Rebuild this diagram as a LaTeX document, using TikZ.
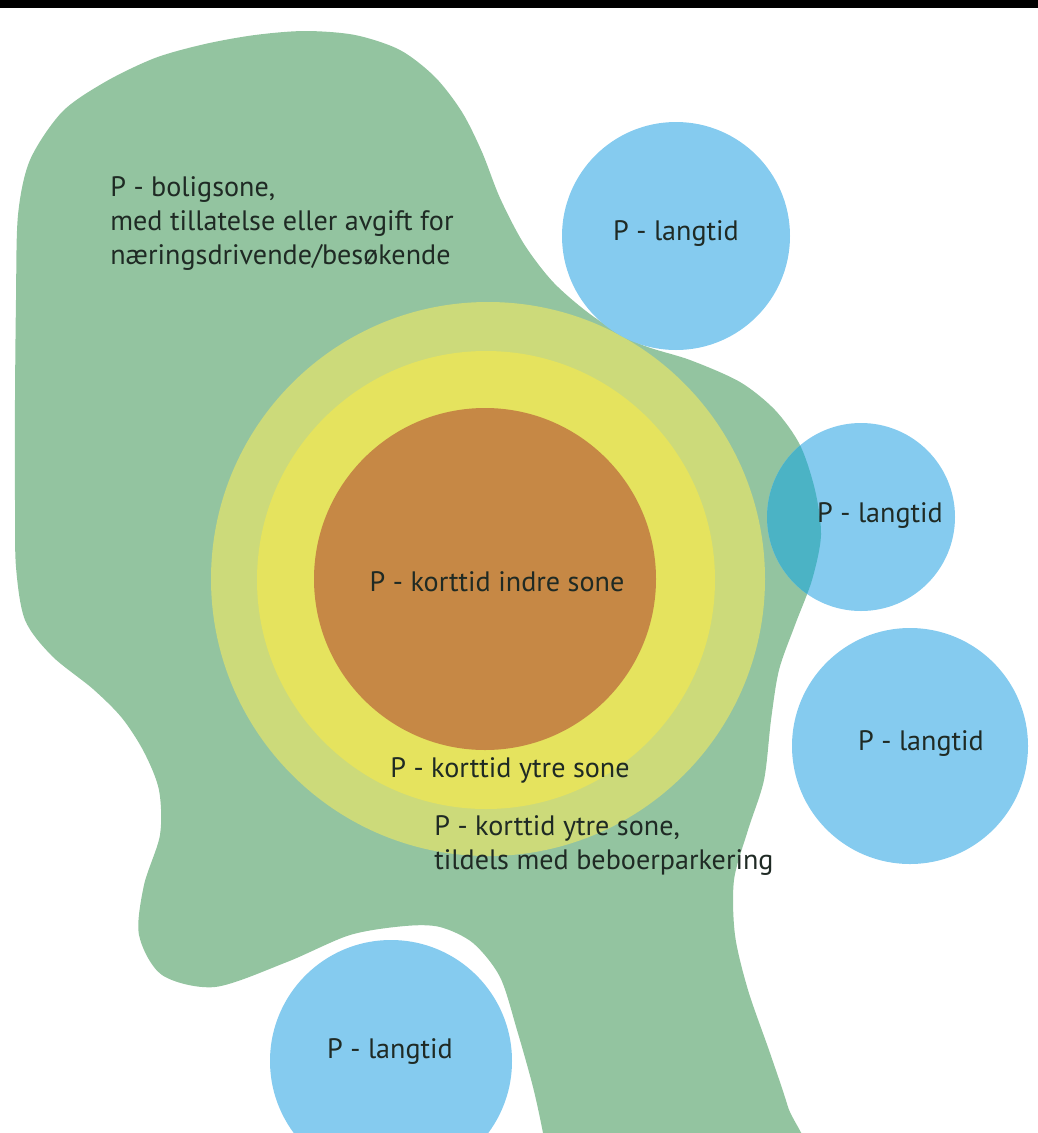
\documentclass[tikz,border=0pt]{standalone}
\usepackage{fontspec}
\setmainfont{PT Sans}
\usetikzlibrary{positioning}
\definecolor{ZoneGreen}{HTML}{93C4A0}
\definecolor{RingOuter}{HTML}{CCDA7A}
\definecolor{RingYellow}{HTML}{E5E35E}
\definecolor{CoreOrange}{HTML}{C68845}
\definecolor{LongBlue}{HTML}{85CBEF}
\definecolor{OverlapTeal}{HTML}{4BB3C5}
\definecolor{TextDark}{HTML}{1F2A24}
\newcommand\blobshape{plot[smooth cycle] coordinates {
  (255,35) (305,31) (355,35) (400,50) (435,77) (462,112) (482,152) (500,198)
  (524,244) (554,283)
  (594,317) (640,344) (690,360) (740,382) (775,410) (800,445) (815,490)
  (821,535) (812,580) (795,625) (779,670) (771,720) (764,780) (748,830)
  (734,880) (735,935) (748,990) (770,1053) (788,1107) (805,1170) (670,1210)
  (548,1165) (543,1133) (533,1087) (517,1030) (500,977) (473,943) (440,927)
  (405,926) (350,935) (287,962) (215,987) (162,975) (139,935) (144,885)
  (160,835) (159,790) (144,752) (122,718) (93,689) (52,656) (25,620)
  (16,567) (15,500) (15,400) (16,300) (18,215) (30,160) (62,112) (105,82)
  (155,58) (205,44)}}

\begin{document}
\begin{tikzpicture}[x=0.02cm, y=-0.02cm,
  zonetext/.style={font=\fontsize{16}{19.3}\selectfont, text=TextDark, inner sep=0pt, align=left}
]
\useasboundingbox (0,0) rectangle (1038,1133);
\clip (0,0) rectangle (1038,1133);
\fill[black] (0,0) rectangle (1038,8);
\fill[ZoneGreen] \blobshape;
\fill[RingOuter] (488,579) circle (277);
\fill[RingYellow] (486,580) circle (229);
\fill[CoreOrange] (485,579) circle (171);
\fill[LongBlue] (676,236) circle (114);
\fill[LongBlue] (861,517) circle (94);
\fill[LongBlue] (910,746) circle (118);
\fill[LongBlue] (391,1061) circle (121);
\begin{scope}
  \clip \blobshape;
  \fill[OverlapTeal] (861,517) circle (94);
\end{scope}
\node[zonetext, anchor=north west] (bolig) at (110,176) {P - boligsone,\\med tillatelse eller avgift for\\næringsdrivende/besøkende};
\node[zonetext] (indre) at (497,582) {P - korttid indre sone};
\node[zonetext] (ytre) at (510,770) {P - korttid ytre sone};
\node[zonetext, anchor=north west] (ytrebeboer) at (434,815) {P - korttid ytre sone,\\tildels med beboerparkering};
\node[zonetext] (langtidA) at (676,234) {P - langtid};
\node[zonetext] (langtidB) at (880,516) {P - langtid};
\node[zonetext] (langtidC) at (921,744) {P - langtid};
\node[zonetext] (langtidD) at (390,1052) {P - langtid};
\end{tikzpicture}
\end{document}
